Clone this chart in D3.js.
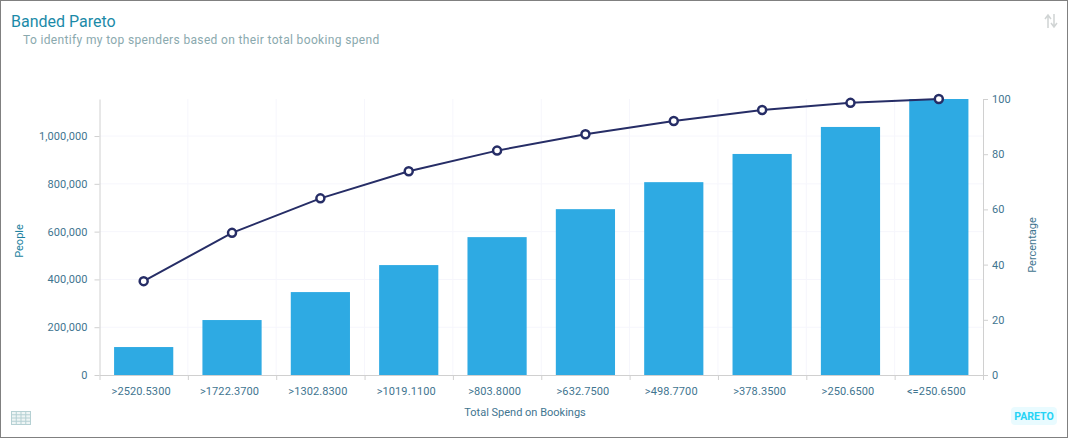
<!DOCTYPE html>
<html>
<head>
    <title>Banded Pareto</title>
    <script src="https://d3js.org/d3.v7.min.js"></script>
    <style>
        html, body {
            margin: 0;
            height: 100%;
            overflow: hidden;
            background: #fff;
        }
        text { font-family: Roboto, sans-serif; }
        .axis text { font-size: 11px; fill: #3f7590; letter-spacing: 0.1px; }
        .axis path, .axis line { stroke: #d0d0d0; }
        .grid line { stroke: #f6f6fc; }
    </style>
</head>
<body>
    <div id="chart"></div>

    <script>
        const bands = [">2520.5300", ">1722.3700", ">1302.8300", ">1019.1100", ">803.8000",
            ">632.7500", ">498.7700", ">378.3500", ">250.6500", "<=250.6500"];
        const people = [117000, 230000, 347000, 460000, 577000, 694000, 807000, 925000, 1038000, 1155000];
        const percentage = [34, 51.5, 64, 73.8, 81.3, 87.2, 92, 96, 98.6, 100];
        const peopleTicks = [0, 200000, 400000, 600000, 800000, 1000000];
        const percentTicks = [0, 20, 40, 60, 80, 100];

        const width = 1068, height = 438;
        const margin = {top: 99, right: 85, bottom: 63, left: 99.5};
        const innerW = width - margin.left - margin.right;
        const innerH = height - margin.top - margin.bottom;

        const svg = d3.select("#chart")
            .append("svg")
            .attr("width", width)
            .attr("height", height)
            .style("display", "block");

        // Card border
        svg.append("rect")
            .attr("x", 0.5).attr("y", 0.5)
            .attr("width", width - 1).attr("height", height - 1)
            .attr("fill", "#fff")
            .attr("stroke", "#808080");

        // Titles
        svg.append("text").attr("x", 11).attr("y", 27)
            .attr("font-size", 16).attr("fill", "#1b8aa8")
            .text("Banded Pareto");
        svg.append("text").attr("x", 23).attr("y", 44)
            .attr("font-size", 12).attr("letter-spacing", 0.35).attr("fill", "#8aa9ae")
            .text("To identify my top spenders based on their total booking spend");

        const g = svg.append("g")
            .attr("transform", `translate(${margin.left},${margin.top})`);

        // Scales
        const x = d3.scaleBand()
            .domain(bands)
            .range([0, innerW])
            .paddingInner(0.33)
            .paddingOuter(0.165);
        const edges = d3.scaleLinear().domain([0, bands.length]).range([0, innerW]);
        const yPeople = d3.scaleLinear().domain([0, 1155000]).range([innerH, 0]);
        const yPct = d3.scaleLinear().domain([0, 100]).range([innerH, 0]);

        // Grid
        g.append("g").attr("class", "grid")
            .selectAll("line")
            .data(d3.range(1, bands.length))
            .join("line")
            .attr("x1", d => edges(d)).attr("x2", d => edges(d))
            .attr("y1", 0).attr("y2", innerH);
        g.append("g").attr("class", "grid")
            .selectAll("line")
            .data(peopleTicks.slice(1))
            .join("line")
            .attr("x1", 0).attr("x2", innerW)
            .attr("y1", d => yPeople(d)).attr("y2", d => yPeople(d));

        // Bars
        g.selectAll(".bar")
            .data(bands)
            .join("rect")
            .attr("class", "bar")
            .attr("fill", "#2eaae3")
            .attr("x", d => x(d))
            .attr("width", x.bandwidth())
            .attr("y", (d, i) => yPeople(people[i]))
            .attr("height", (d, i) => innerH - yPeople(people[i]));

        // Axes
        g.append("g").attr("class", "axis")
            .call(d3.axisLeft(yPeople).tickValues(peopleTicks).tickFormat(d3.format(",")).tickSize(5).tickSizeOuter(0).tickPadding(7));
        g.append("g").attr("class", "axis")
            .attr("transform", `translate(${innerW},0)`)
            .call(d3.axisRight(yPct).tickValues(percentTicks).tickSize(5).tickPadding(4));

        const xAxis = g.append("g").attr("class", "axis")
            .attr("transform", `translate(0,${innerH})`);
        xAxis.call(d3.axisBottom(edges).tickValues(d3.range(0, bands.length + 1)).tickSize(5).tickSizeOuter(0).tickFormat(""));
        xAxis.selectAll(".band-label")
            .data(bands)
            .join("text")
            .attr("class", "band-label")
            .attr("x", d => x(d) + x.bandwidth() / 2 - 2.5)
            .attr("y", 20)
            .attr("text-anchor", "middle")
            .text(d => d);

        // Cumulative line
        const line = d3.line()
            .x((d, i) => x(bands[i]) + x.bandwidth() / 2)
            .y(d => yPct(d));
        g.append("path")
            .datum(percentage)
            .attr("d", line)
            .attr("fill", "none")
            .attr("stroke", "#262d66")
            .attr("stroke-width", 2);
        g.selectAll(".dot")
            .data(percentage)
            .join("circle")
            .attr("class", "dot")
            .attr("cx", (d, i) => x(bands[i]) + x.bandwidth() / 2)
            .attr("cy", d => yPct(d))
            .attr("r", 4)
            .attr("fill", "#fff")
            .attr("stroke", "#262d66")
            .attr("stroke-width", 2.5);

        // Axis titles
        svg.append("text").attr("x", 525).attr("y", 416)
            .attr("text-anchor", "middle").attr("font-size", 11).attr("fill", "#3f7590")
            .text("Total Spend on Bookings");
        svg.append("text").attr("transform", "translate(23,241) rotate(-90)")
            .attr("text-anchor", "middle").attr("font-size", 11).attr("fill", "#1b7f9e")
            .text("People");
        svg.append("text").attr("transform", "translate(1036,245) rotate(-90)")
            .attr("text-anchor", "middle").attr("font-size", 11).attr("fill", "#3f7590")
            .text("Percentage");

        // Sort icon, top right
        const icon = svg.append("g").attr("fill", "none").attr("stroke", "#d0d4d4").attr("stroke-width", 1.5);
        icon.append("path").attr("d", "M1048 28V15M1045 19L1048 15L1051 19");
        icon.append("path").attr("d", "M1054 14V27M1051 23L1054 27L1057 23");

        // Table icon, bottom left
        const table = svg.append("g").attr("stroke", "#b5d0d3").attr("fill", "#eef5f5");
        table.append("rect").attr("x", 11.5).attr("y", 411.5).attr("width", 19).attr("height", 13);
        d3.range(1, 4).forEach(i => {
            table.append("line").attr("x1", 11.5 + i * 19 / 4).attr("x2", 11.5 + i * 19 / 4).attr("y1", 411.5).attr("y2", 424.5);
            table.append("line").attr("x1", 11.5).attr("x2", 30.5).attr("y1", 411.5 + i * 13 / 4).attr("y2", 411.5 + i * 13 / 4);
        });

        // Pareto badge
        svg.append("rect").attr("x", 1011).attr("y", 407).attr("width", 46).attr("height", 18)
            .attr("rx", 4).attr("fill", "#e9fbff");
        svg.append("text").attr("x", 1034).attr("y", 419.5)
            .attr("text-anchor", "middle").attr("font-size", 10.5).attr("font-weight", 700).attr("fill", "#27d3f5")
            .text("PARETO");
    </script>
</body>
</html>
